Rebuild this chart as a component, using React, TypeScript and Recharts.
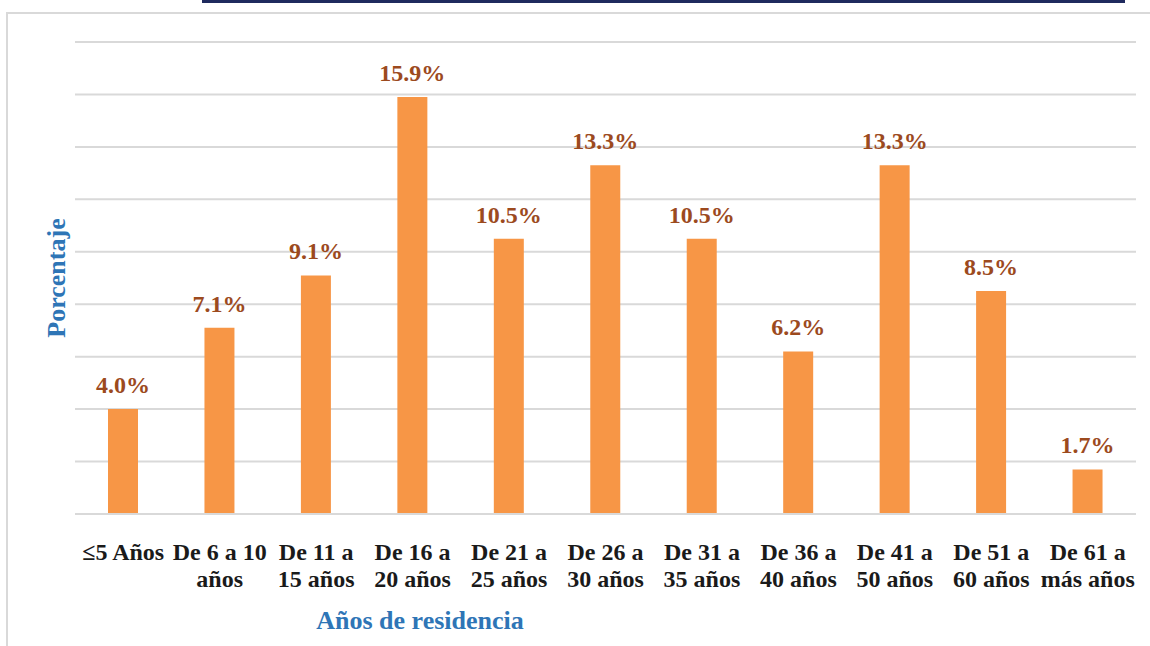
import React from "react";
import {
  Bar,
  BarChart,
  CartesianGrid,
  LabelList,
  XAxis,
  YAxis,
} from "recharts";

// años de residencia
const categories = [
  "≤5 Años",
  "De 6 a 10|años",
  "De 11 a|15 años",
  "De 16 a|20 años",
  "De 21 a|25 años",
  "De 26 a|30 años",
  "De 31 a|35 años",
  "De 36 a|40 años",
  "De 41 a|50 años",
  "De 51 a|60 años",
  "De 61 a|más años",
];
const percentages = [4.0, 7.1, 9.1, 15.9, 10.5, 13.3, 10.5, 6.2, 13.3, 8.5, 1.7];
const yTicks = [0, 2, 4, 6, 8, 10, 12, 14, 16, 18];

const data = categories.map((c, i) => ({ name: c, v: percentages[i] }));

const SERIF = "'Liberation Serif', 'Times New Roman', serif";
const BAR = "#F79646";
const LABEL = "#9C4A1E";
const TITLE = "#2E75B6";
const GRID = "#d9d9d9";

const txt = { fontFamily: SERIF, fontWeight: 700, fontSize: 24 };

function Tick(props: any) {
  const { x, y, payload } = props;
  const lines = String(payload.value).split("|");
  return (
    <g>
      {lines.map((l, i) => (
        <text
          key={i}
          x={x}
          y={y + 38 + i * 27}
          textAnchor="middle"
          style={{ ...txt, fill: "#1a1a1a" }}
        >
          {l}
        </text>
      ))}
    </g>
  );
}

function ValueLabel(props: any) {
  const { x, y, width, value } = props;
  return (
    <text
      x={x + width / 2}
      y={y - 16}
      textAnchor="middle"
      style={{ ...txt, fill: LABEL }}
    >
      {Number(value).toFixed(1)}%
    </text>
  );
}

export default function App() {
  return (
    <div
      style={{
        position: "absolute",
        left: 0,
        top: 0,
        width: 1150,
        height: 646,
        background: "#fff",
        overflow: "hidden",
      }}
    >
      <div
        style={{
          position: "absolute",
          left: 202,
          top: 0,
          width: 923,
          height: 3,
          background: "#1F2A5E",
        }}
      />
      <div
        style={{
          position: "absolute",
          left: 6,
          top: 12,
          width: 1160,
          height: 660,
          border: `2px solid ${GRID}`,
          boxSizing: "border-box",
        }}
      />
      <div style={{ position: "absolute", left: 0, top: 0 }}>
        <BarChart
          width={1150}
          height={646}
          data={data}
          margin={{ top: 42, right: 14, bottom: 0, left: 75 }}
        >
          <CartesianGrid
            vertical={false}
            stroke={GRID}
            strokeWidth={2}
          />
          <YAxis
            domain={[0, 18]}
            ticks={yTicks}
            width={0}
            tick={() => <g />}
            axisLine={false}
            tickLine={false}
          />
          <XAxis
            dataKey="name"
            interval={0}
            tickLine={false}
            axisLine={{ stroke: GRID, strokeWidth: 2 }}
            tick={<Tick />}
            height={132}
          />
          <Bar dataKey="v" fill={BAR} barSize={30} isAnimationActive={false}>
            <LabelList dataKey="v" content={<ValueLabel />} />
          </Bar>
        </BarChart>
      </div>
      <div
        style={{
          position: "absolute",
          left: 420,
          top: 621,
          transform: "translate(-50%, -50%)",
          fontFamily: SERIF,
          fontWeight: "bold",
          fontSize: 26,
          color: TITLE,
          whiteSpace: "nowrap",
        }}
      >
        Años de residencia
      </div>
      <div
        style={{
          position: "absolute",
          left: 57,
          top: 278,
          transform: "translate(-50%, -50%) rotate(-90deg)",
          fontFamily: SERIF,
          fontWeight: "bold",
          fontSize: 26,
          color: TITLE,
          whiteSpace: "nowrap",
        }}
      >
        Porcentaje
      </div>
    </div>
  );
}
